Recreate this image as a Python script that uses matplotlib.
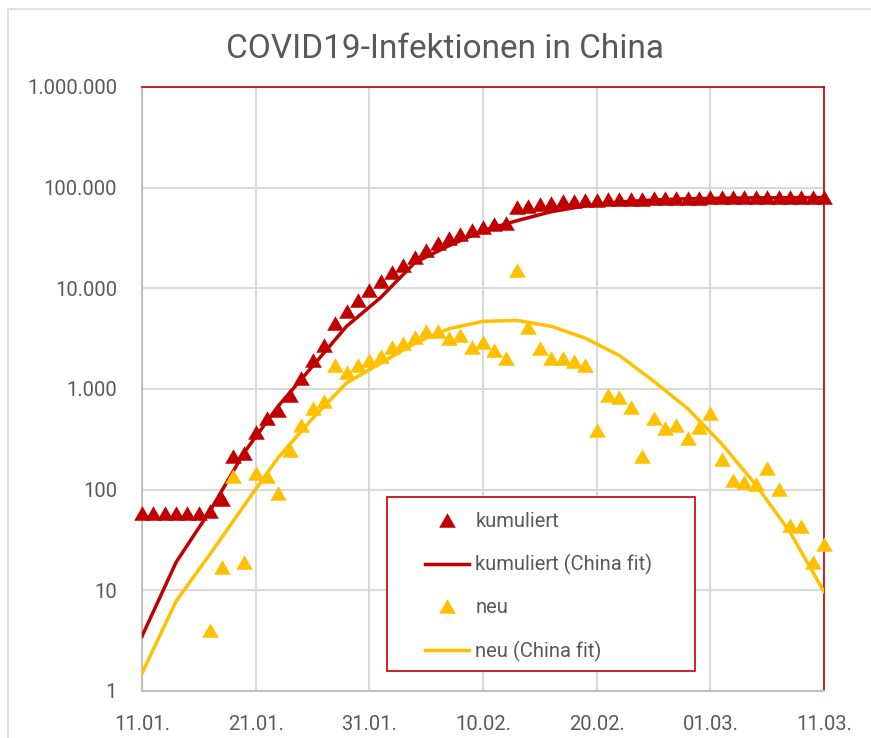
import numpy as np
import pandas as pd
import matplotlib
matplotlib.use("Agg")
import matplotlib.pyplot as plt
import matplotlib.dates as mdates
from matplotlib.lines import Line2D
from matplotlib.patches import Rectangle
from matplotlib.ticker import FixedLocator, FuncFormatter

# Daten (WHO/NHC) - 11.01.2020 bis 11.03.2020
tage = pd.date_range("2020-01-11", "2020-03-11", freq="D")

kumuliert = [59, 59, 59, 59, 59, 59, 62, 80, 217, 232, 378, 514, 621, 876, 1283,
             1950, 2750, 4540, 5900, 7700, 9700, 11700, 14400, 17200, 20500,
             24300, 28100, 31500, 35000, 38000, 40500, 44000, 44700, 63800,
             66300, 68700, 71000, 73000, 74300, 74800, 75600, 76300, 76900,
             77200, 77700, 78100, 78500, 78800, 79300, 79800, 80000, 80200,
             80300, 80400, 80600, 80700, 80700, 80800, 80800, 80800, 80800]

neu = [np.nan] * 6 + [4, 17, 136, 19, 147, 136, 93, 249, 440, 650, 760, 1740,
       1480, 1740, 1950, 2150, 2600, 2850, 3250, 3800, 3750, 3200, 3420, 2600,
       2960, 2460, 2030, 15200, 4150, 2580, 2030, 2040, 1900, 1750, 393, 876,
       836, 660, 217, 515, 410, 440, 327, 424, 578, 202, 125, 118, 114, 166,
       101, 45, 44, 19, 29]

# Fit-Kurven (alle 3 Tage)
fit_tage = tage[::3]
kum_fit = [3.5, 19, 62, 235, 680, 1680, 4200, 8100, 18000, 26500, 37500,
           47000, 57700, 66000, 72000, 75500, 77500, 78500, 79200, 79600, 79800]
neu_fit = [1.5, 7.8, 23, 70, 210, 510, 1150, 1800, 2850, 3970, 4700, 4800,
           4200, 3200, 2150, 1200, 640, 285, 112, 38, 9.7]

ROT = "#C00000"
GELB = "#FFC000"
GRAU = "#595959"

plt.rcParams['font.family'] = ['Roboto', 'DejaVu Sans']

fig = plt.figure(figsize=(8.71, 7.38), dpi=100)
ax = fig.add_axes([142 / 871, 47 / 738, 682 / 871, 604 / 738])

# Rahmen des Diagrammbereichs
fig.patches.append(Rectangle((8 / 871, -0.1), 1.0, 1.1 - 9 / 738, transform=fig.transFigure,
                             fill=False, edgecolor="#D9D9D9", lw=1.2, clip_on=False))

dreieck = [(0, 0.87), (-1, -0.87), (1, -0.87)]
ms = 12

ax.plot(tage, kumuliert, linestyle="none", marker=dreieck, markersize=ms,
        color=ROT, markeredgewidth=0, zorder=3, clip_on=False)
ax.plot(fit_tage, kum_fit, color=ROT, lw=2.5, zorder=3)
ax.plot(tage, neu, linestyle="none", marker=dreieck, markersize=ms,
        color=GELB, markeredgewidth=0, zorder=3, clip_on=False)
ax.plot(fit_tage, neu_fit, color=GELB, lw=2.5, zorder=3)

ax.set_yscale("log")
ax.set_ylim(1, 1e6)
ax.set_xlim(tage[0], tage[-1])

ax.yaxis.set_major_locator(FixedLocator([10 ** i for i in range(7)]))
ax.yaxis.set_minor_locator(FixedLocator([]))
ax.yaxis.set_major_formatter(FuncFormatter(lambda v, p: f"{int(round(v)):,}".replace(",", ".")))
ax.xaxis.set_major_locator(FixedLocator(mdates.date2num(tage[::10])))
ax.xaxis.set_major_formatter(mdates.DateFormatter("%d.%m."))

ax.tick_params(length=0, labelsize=14.5, labelcolor=GRAU)
ax.tick_params(axis="y", pad=18)
ax.tick_params(axis="x", pad=17)

ax.set_axisbelow(True)
ax.grid(True, color="#D9D9D9", lw=1.5)

ax.spines["left"].set_color("#BFBFBF")
ax.spines["bottom"].set_color("#BFBFBF")
ax.spines["left"].set_linewidth(1.5)
ax.spines["bottom"].set_linewidth(1.5)
ax.spines["top"].set_color(ROT)
ax.spines["right"].set_color(ROT)
ax.spines["top"].set_linewidth(1.2)
ax.spines["right"].set_linewidth(1.2)

fig.text(445 / 871, 1 - 49 / 738, "COVID19-Infektionen in China", ha="center",
         va="center", fontsize=24, color=GRAU)

# Legende mit eigenem Rahmen
ax.add_patch(Rectangle((0.359, 0.033), 0.452, 0.288, transform=ax.transAxes,
                       facecolor="white", edgecolor=ROT, lw=1.2, zorder=4))
handles = [
    Line2D([], [], linestyle="none", marker=dreieck, markersize=ms, color=ROT, markeredgewidth=0),
    Line2D([], [], color=ROT, lw=2.5),
    Line2D([], [], linestyle="none", marker=dreieck, markersize=ms, color=GELB, markeredgewidth=0),
    Line2D([], [], color=GELB, lw=2.5),
]
labels = ["kumuliert", "kumuliert (China fit)", "neu", "neu (China fit)"]
leg = ax.legend(handles, labels, loc="upper left", bbox_to_anchor=(0.400, 0.313),
                frameon=False, borderpad=0, handlelength=2.2, handletextpad=0.3,
                labelspacing=1.15, fontsize=14.5, labelcolor=GRAU)
leg.set_zorder(5)

fig.savefig("out.png", dpi=100)
